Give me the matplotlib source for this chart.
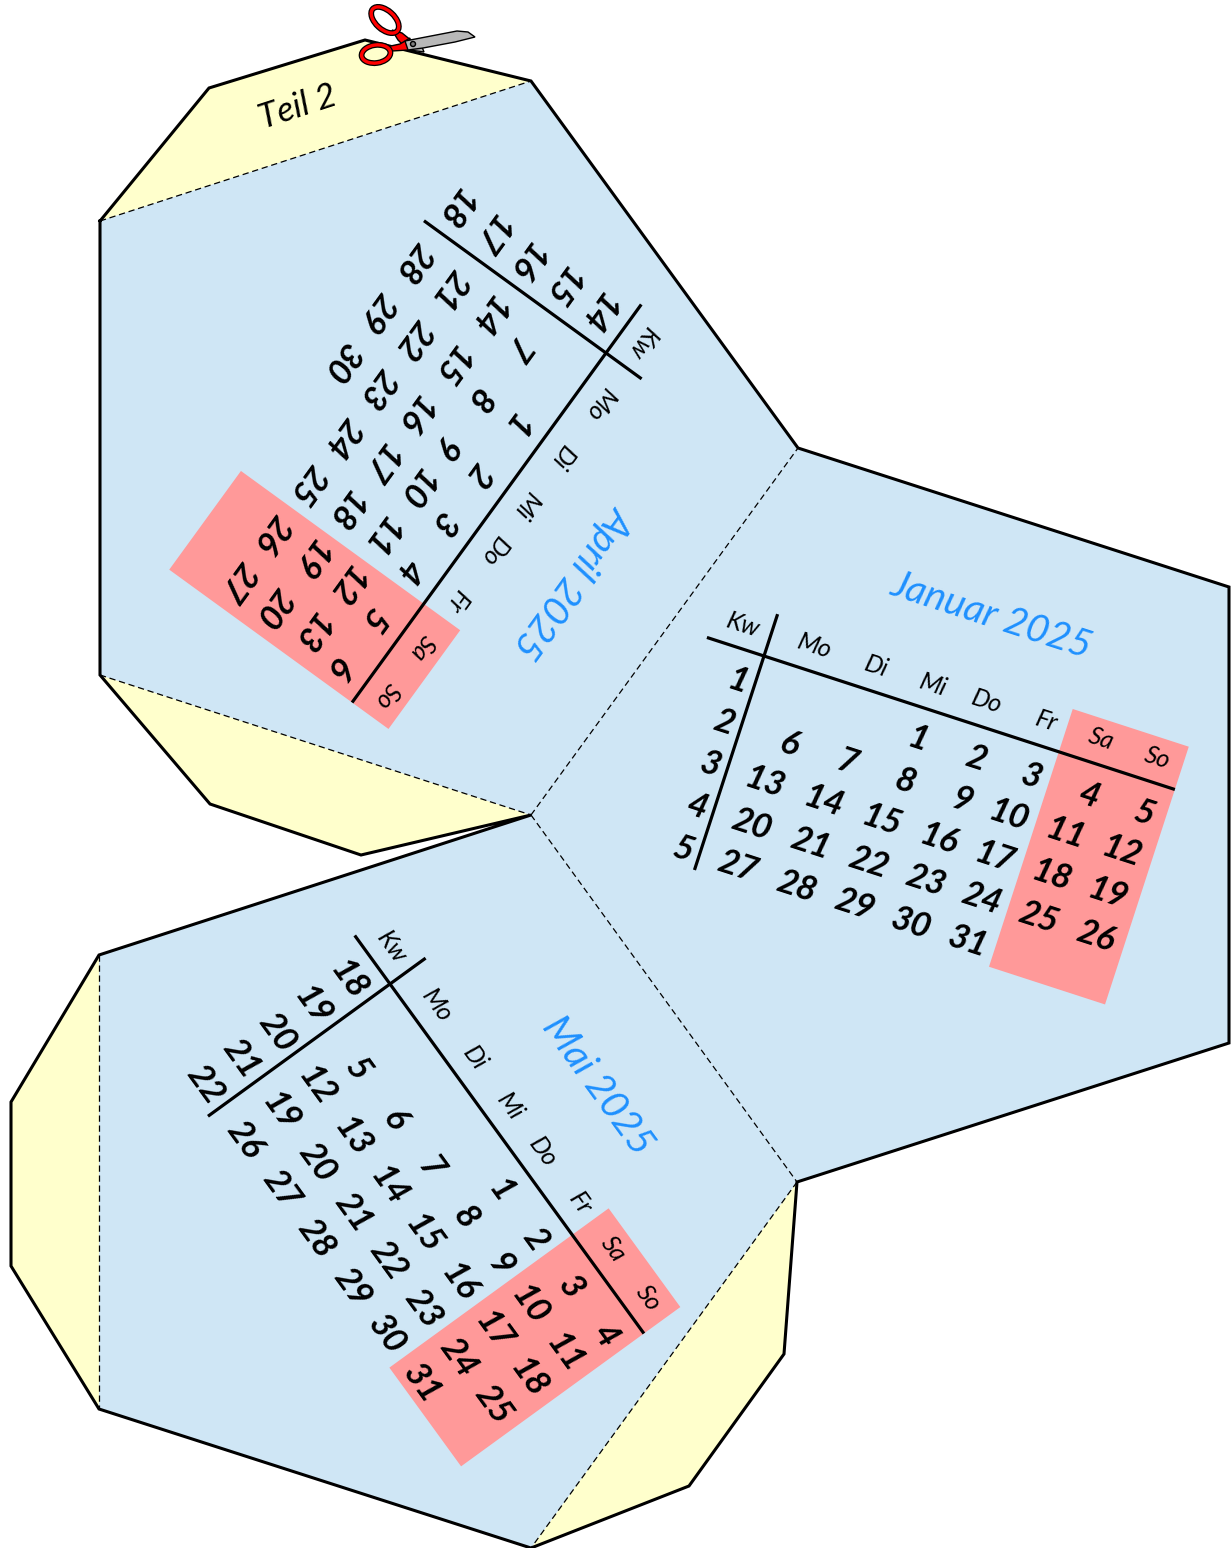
import numpy as np
import matplotlib
matplotlib.use("Agg")
import matplotlib.pyplot as plt
from matplotlib.patches import Polygon, Ellipse

plt.rcParams['font.family'] = ['Lato', 'DejaVu Sans']

# calendar content
day_names = ['Mo', 'Di', 'Mi', 'Do', 'Fr', 'Sa', 'So']

jan_title = 'Januar 2025'
jan_weeks = [1, 2, 3, 4, 5]
jan_days = [[None, None, 1, 2, 3, 4, 5],
            [6, 7, 8, 9, 10, 11, 12],
            [13, 14, 15, 16, 17, 18, 19],
            [20, 21, 22, 23, 24, 25, 26],
            [27, 28, 29, 30, 31, None, None]]

apr_title = 'April 2025'
apr_weeks = [14, 15, 16, 17, 18]
apr_days = [[None, 1, 2, 3, 4, 5, 6],
            [7, 8, 9, 10, 11, 12, 13],
            [14, 15, 16, 17, 18, 19, 20],
            [21, 22, 23, 24, 25, 26, 27],
            [28, 29, 30, None, None, None, None]]

may_title = 'Mai 2025'
may_weeks = [18, 19, 20, 21, 22]
may_days = [[None, None, None, 1, 2, 3, 4],
            [5, 6, 7, 8, 9, 10, 11],
            [12, 13, 14, 15, 16, 17, 18],
            [19, 20, 21, 22, 23, 24, 25],
            [26, 27, 28, 29, 30, 31, None]]

# net outline in pixels
blue = '#cfe6f5'
yellow = '#ffffcc'
red = '#ff9999'
title_blue = '#1e90ff'

center = (531, 815)
panel_jan = [center, (798, 448), (1229, 587), (1229, 1043), (797, 1182)]
panel_apr = [center, (798, 448), (531, 81), (100, 221), (100, 675)]
panel_may = [center, (797, 1182), (531, 1548), (99, 1409), (99, 955)]

tab_top = [(100, 221), (209, 88), (365, 40), (531, 81)]
tab_low = [(100, 675), (210, 804), (361, 855), (531, 815)]
tab_left = [(99, 955), (11, 1102), (11, 1266), (99, 1409)]
tab_right = [(797, 1182), (784, 1354), (689, 1486), (531, 1548)]

outer = [(100, 221), (100, 675), (210, 804), (361, 855), (531, 815), (99, 955),
         (11, 1102), (11, 1266), (99, 1409), (531, 1548), (689, 1486), (784, 1354),
         (797, 1182), (1229, 1043), (1229, 587), (798, 448), (531, 81), (365, 40),
         (209, 88), (100, 221)]
outer = np.array(outer)

folds = [[center, (798, 448)], [center, (797, 1182)], [(100, 221), (531, 81)],
         [(100, 675), center], [(99, 955), (99, 1409)], [(797, 1182), (531, 1548)]]

# one table layout, shared by the three rotated panels
col_x = [50, 112, 173, 233, 292, 352, 411]
head_x = [45, 110, 170, 226, 289, 346, 406]
row_y = [32, 76, 120, 164, 209]

fig = plt.figure(figsize=(12.31, 15.48), dpi=100)
ax = fig.add_axes([0, 0, 1, 1])
ax.set_xlim(0, 1231)
ax.set_ylim(1548, 0)
ax.axis('off')

for tab in [tab_top, tab_low, tab_left, tab_right]:
    ax.add_patch(Polygon(tab, closed=True, fc=yellow, ec='none', zorder=1))
for panel in [panel_jan, panel_apr, panel_may]:
    ax.add_patch(Polygon(panel, closed=True, fc=blue, ec='none', zorder=2))

for a, b in folds:
    ax.plot([a[0], b[0]], [a[1], b[1]], color='black', lw=0.9, ls=(0, (5, 3)), zorder=3)
ax.plot(outer[:, 0], outer[:, 1], color='black', lw=2.2, solid_joinstyle='miter', zorder=4)


def draw_month(origin, angle, title, weeks, days):
    t = np.deg2rad(angle)
    ux = np.array([np.cos(t), np.sin(t)])
    uy = np.array([-np.sin(t), np.cos(t)])
    org = np.array(origin, dtype=float)

    def loc(x, y):
        return org + x * ux + y * uy

    # weekend block
    corners = [loc(310, -45), loc(432, -45), loc(432, 226), loc(310, 226)]
    ax.add_patch(Polygon(corners, closed=True, fc=red, ec='none', zorder=5))

    # table rules
    for a, b in [(loc(-60, 0), loc(432, 0)), (loc(0, -44), loc(0, 225))]:
        ax.plot([a[0], b[0]], [a[1], b[1]], color='black', lw=2.3,
                solid_capstyle='butt', zorder=6)

    p = loc(204, -108)
    ax.text(p[0], p[1], title, color=title_blue, fontsize=28, style='italic',
            rotation=-angle, rotation_mode='anchor',
            ha='center', va='center', zorder=7)

    p = loc(-29, -23)
    ax.text(p[0], p[1], 'Kw', color='black', fontsize=18, style='italic',
            rotation=-angle, rotation_mode='anchor', ha='center', va='center', zorder=7)
    for x, name in zip(head_x, day_names):
        p = loc(x, -25)
        ax.text(p[0], p[1], name, color='black', fontsize=18, style='italic',
                rotation=-angle, rotation_mode='anchor',
                ha='center', va='center', zorder=7)

    for y, week, row in zip(row_y, weeks, days):
        p = loc(-7, y)
        ax.text(p[0], p[1], str(week), color='black', fontsize=25, fontweight='bold',
                style='italic', rotation=-angle, rotation_mode='anchor',
                ha='right', va='center', zorder=7)
        for x, day in zip(col_x, row):
            if day is None:
                continue
            p = loc(x + 10, y)
            ax.text(p[0], p[1], str(day), color='black', fontsize=25, fontweight='bold',
                    style='italic', rotation=-angle, rotation_mode='anchor',
                    ha='right', va='center', zorder=7)


draw_month((764, 656), 18, jan_title, jan_weeks, jan_days)
draw_month((606, 353), 126, apr_title, apr_weeks, apr_days)
draw_month((390, 984), 54, may_title, may_weeks, may_days)

ax.text(298, 107, 'Teil 2', color='black', fontsize=25, style='italic',
        rotation=18, rotation_mode='anchor', ha='center', va='center', zorder=7)

# scissors
blade = [(405, 41), (457, 31), (468, 32), (475, 37), (455, 42), (423, 48), (408, 50)]
under = [(412, 45), (422, 47), (424, 52), (410, 50)]
ax.add_patch(Polygon(under, closed=True, fc='#b8b8b8', ec='black', lw=1, zorder=8))
shank_a = [(392, 30), (402, 33), (412, 41), (408, 50), (398, 40)]
shank_b = [(386, 47), (400, 44), (410, 38), (408, 50), (392, 51)]
for shank in [shank_a, shank_b]:
    ax.add_patch(Polygon(shank, closed=True, fc='red', ec='black', lw=1, zorder=8))
for xy, w, h, ang in [((385, 20), 33, 19, 42), ((376, 54), 29, 18, -8)]:
    ax.add_patch(Ellipse(xy, w, h, angle=ang, fill=False, ec='black', lw=4.2, zorder=9))
    ax.add_patch(Ellipse(xy, w, h, angle=ang, fill=False, ec='red', lw=2.4, zorder=10))
ax.add_patch(Polygon(blade, closed=True, fc='#b8b8b8', ec='black', lw=1, zorder=11))
ax.add_patch(Ellipse((413, 44), 5, 5, fc='#808080', ec='black', lw=1, zorder=12))

fig.savefig('out.png', dpi=100)
